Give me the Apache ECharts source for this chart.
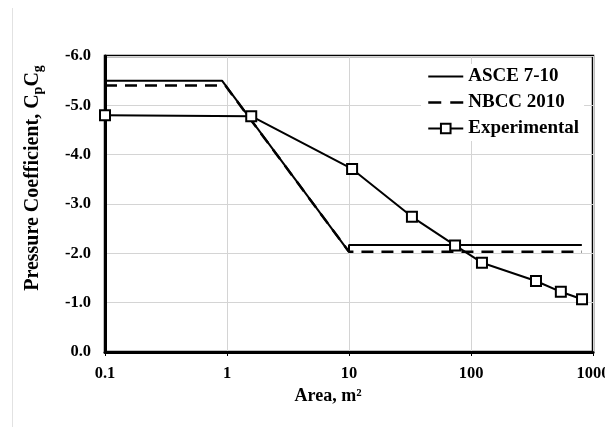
<!DOCTYPE html>
<html>
<head>
<meta charset="utf-8">
<script src="https://cdn.jsdelivr.net/npm/echarts@6/dist/echarts.min.js"></script>
<style>
  html, body { margin: 0; padding: 0; background: #fff; }
  #chart { width: 605px; height: 427px; }
</style>
</head>
<body>
<div id="chart"></div>
<script>
// ASCE 7-10 curve
const asceArea = [0.1, 0.91, 10, 10, 810]
const asceCoef = [-5.5, -5.5, -2.03, -2.17, -2.17]
// NBCC 2010 curve
const nbccArea = [0.1, 0.97, 10, 810]
const nbccCoef = [-5.4, -5.4, -2.03, -2.03]
// experimental points
const expArea = [0.1, 1.58, 10.6, 32.8, 74, 123, 341, 545, 813]
const expCoef = [-4.8, -4.78, -3.71, -2.74, -2.16, -1.81, -1.44, -1.22, -1.07]

const font = '"Liberation Serif", "Times New Roman", serif'
const pairs = (xs, ys) => xs.map((x, i) => [x, ys[i]])

const chart = echarts.init(document.getElementById('chart'))
chart.setOption({
  animation: false,
  grid: {
    left: 105, right: 12, top: 56, bottom: 75,
    show: true, borderColor: '#000', borderWidth: 2.5,
    outerBoundsMode: 'none'
  },
  legend: {
    left: 421, top: 64,
    orient: 'vertical',
    padding: [3, 5, 3, 6],
    itemWidth: 35, itemHeight: 12, itemGap: 7,
    backgroundColor: '#fff',
    textStyle: { fontFamily: font, fontWeight: 'bold', fontSize: 19, color: '#000' },
    data: [
      { name: 'ASCE 7-10', itemStyle: { opacity: 0 }, lineStyle: { color: '#000', width: 2 } },
      { name: 'NBCC 2010', itemStyle: { opacity: 0 }, lineStyle: { color: '#000', width: 2.5, type: [13, 9] } },
      { name: 'Experimental' }
    ]
  },
  xAxis: {
    type: 'log',
    logBase: 10,
    min: 0.1,
    max: 1000,
    axisLine: { lineStyle: { color: '#000', width: 3 } },
    axisTick: { show: true, length: 4, lineStyle: { color: '#000' } },
    minorTick: { show: false },
    splitLine: { show: true, lineStyle: { color: '#d4d4d4', width: 1 } },
    axisLabel: {
      margin: 13,
      alignMaxLabel: 'center',
      fontFamily: font, fontWeight: 'bold', fontSize: 16.5, color: '#000',
      formatter: v => String(+Number(v).toPrecision(6))
    }
  },
  yAxis: {
    type: 'value',
    min: -6,
    max: 0,
    interval: 1,
    inverse: true,
    axisLine: { show: true, lineStyle: { color: '#000', width: 3 } },
    axisTick: { show: false },
    splitLine: { show: true, lineStyle: { color: '#d4d4d4', width: 1 } },
    axisLabel: {
      margin: 14,
      fontFamily: font, fontWeight: 'bold', fontSize: 16.5, color: '#000',
      formatter: v => v.toFixed(1)
    }
  },
  graphic: [
    {
      type: 'line', silent: true,
      shape: { x1: 12.5, y1: 8, x2: 12.5, y2: 427 },
      style: { stroke: '#e2e2e2', lineWidth: 1 }
    },
    {
      type: 'text', x: 33, y: 178, rotation: Math.PI / 2,
      style: {
        text: '{a|Pressure Coefficient, C}{s|p}{a|C}{s|g}',
        align: 'center', verticalAlign: 'middle',
        rich: {
          a: { fontFamily: font, fontWeight: 'bold', fontSize: 20, lineHeight: 24, fill: '#000' },
          s: { fontFamily: font, fontWeight: 'bold', fontSize: 14, lineHeight: 13, verticalAlign: 'bottom', fill: '#000' }
        }
      }
    },
    {
      type: 'text', x: 328, y: 396,
      style: {
        text: 'Area, m²',
        font: 'bold 18px ' + font,
        fill: '#000',
        align: 'center', verticalAlign: 'middle'
      }
    }
  ],
  series: [
    {
      name: 'ASCE 7-10',
      type: 'line',
      data: pairs(asceArea, asceCoef),
      symbol: 'none',
      lineStyle: { color: '#000', width: 2 },
      itemStyle: { color: '#000' }
    },
    {
      name: 'NBCC 2010',
      type: 'line',
      data: pairs(nbccArea, nbccCoef),
      symbol: 'none',
      lineStyle: { color: '#000', width: 2.5, type: [12, 8] },
      itemStyle: { color: '#000' }
    },
    {
      name: 'Experimental',
      type: 'line',
      data: pairs(expArea, expCoef),
      symbol: 'rect',
      symbolSize: 10,
      lineStyle: { color: '#000', width: 2 },
      itemStyle: { color: '#fff', borderColor: '#000', borderWidth: 2 }
    }
  ]
})
</script>
</body>
</html>
